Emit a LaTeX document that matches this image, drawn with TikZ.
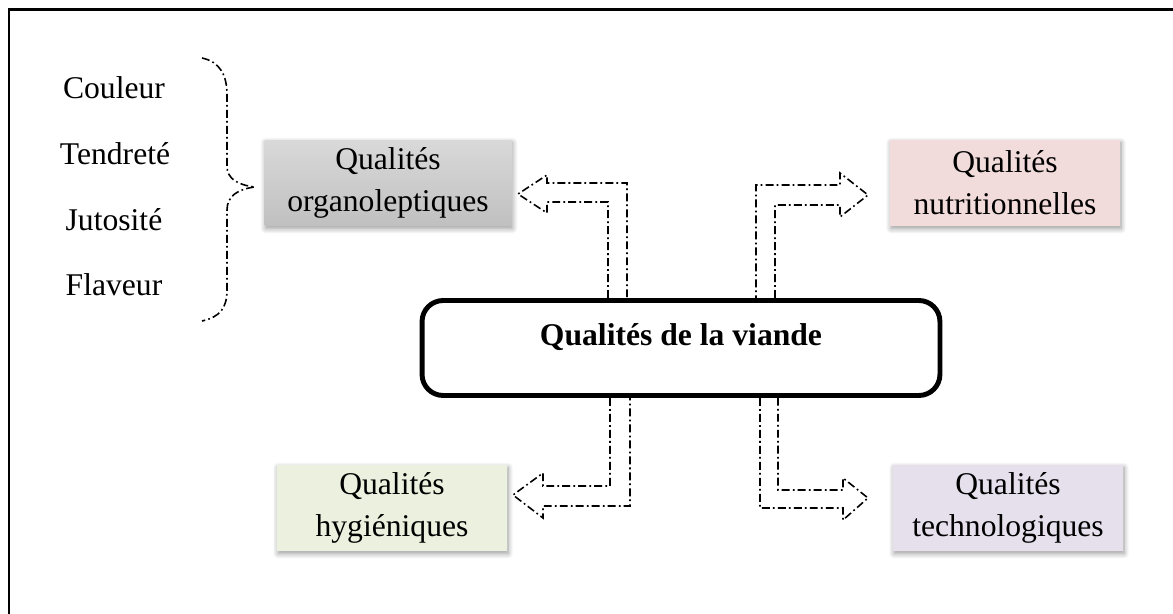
\documentclass[tikz,border=0pt]{standalone}
\usepackage{fontspec}
\setmainfont{Liberation Serif}
\usetikzlibrary{shadows.blur}
\definecolor{orgahaut}{HTML}{D9D9D9}
\definecolor{orgabas}{HTML}{C0C0C0}
\definecolor{nutri}{HTML}{F2DCDB}
\definecolor{hygie}{HTML}{EBF1DE}
\definecolor{techno}{HTML}{E5E0EC}

\begin{document}
\begin{tikzpicture}[x=0.02cm,y=-0.02cm,
    font=\fontsize{18}{24}\selectfont,
    qualbox/.style={minimum width=4.6cm,minimum height=1.72cm,align=center,
        blur shadow={shadow blur steps=8,shadow blur radius=3pt,shadow xshift=0.6pt,shadow yshift=-1.5pt,shadow opacity=40}},
    dashdot/.style={line width=0.9pt,dash pattern=on 4.5pt off 1.8pt on 1pt off 1.8pt}]
    \useasboundingbox (0,0) rectangle (1173,614);

			%cadre
			\draw[line width=1.7pt] (9,614) -- (9,10) -- (1173,10);
			\node[anchor=base] (couleur) at (114,99) {Couleur};
			\node[anchor=base] (tendrete) at (115,165) {Tendreté};
			\node[anchor=base] (jutosite) at (114,231) {Jutosité};
			\node[anchor=base] (flaveur) at (114,296) {Flaveur};
			\draw[dashdot] (202,58) .. controls (220,62) and (227,75) .. (227,95) -- (227,166) .. controls (227,179) and (238,185) .. (255,187) .. controls (238,189) and (227,196) .. (227,210) -- (227,290) .. controls (227,308) and (220,317) .. (202,321);
			\node[qualbox,minimum width=4.94cm,top color=orgahaut,bottom color=orgabas] (orga) at (388,183) {Qualités\\organoleptiques};
			\node[qualbox,fill=nutri] (nutri) at (1005,183) {Qualités\\nutritionnelles};
			\node[qualbox,fill=hygie] (hygie) at (392,508) {Qualités\\hygiéniques};
			\node[qualbox,fill=techno] (techno) at (1008,508) {Qualités\\technologiques};
			\node[draw,line width=2.8pt,rounded corners=12pt,minimum width=10.36cm,minimum height=1.9cm] (viande) at (681,348) {};
			\node (titre) at (681,337) {\textbf{Qualités de la viande}};
			%fleches creuses
			\draw[dashdot] (608,0 |- viande.north) -- (608,202) -- (547,202) -- (547,213) -- (518,194) -- (547,175) -- (547,183) -- (627,183) -- (627,0 |- viande.north);
			\draw[dashdot] (775,0 |- viande.north) -- (775,205) -- (840,205) -- (840,217) -- (868,195) -- (840,173) -- (840,185) -- (756,185) -- (756,0 |- viande.north);
			\draw[dashdot] (610,0 |- viande.south) -- (610,486) -- (543,486) -- (543,473) -- (513,495) -- (543,518) -- (543,506) -- (630,506) -- (630,0 |- viande.south);
			\draw[dashdot] (760,0 |- viande.south) -- (760,508) -- (843,508) -- (843,520) -- (868,498) -- (843,478) -- (843,490) -- (778,490) -- (778,0 |- viande.south);

\end{tikzpicture}
\end{document}
